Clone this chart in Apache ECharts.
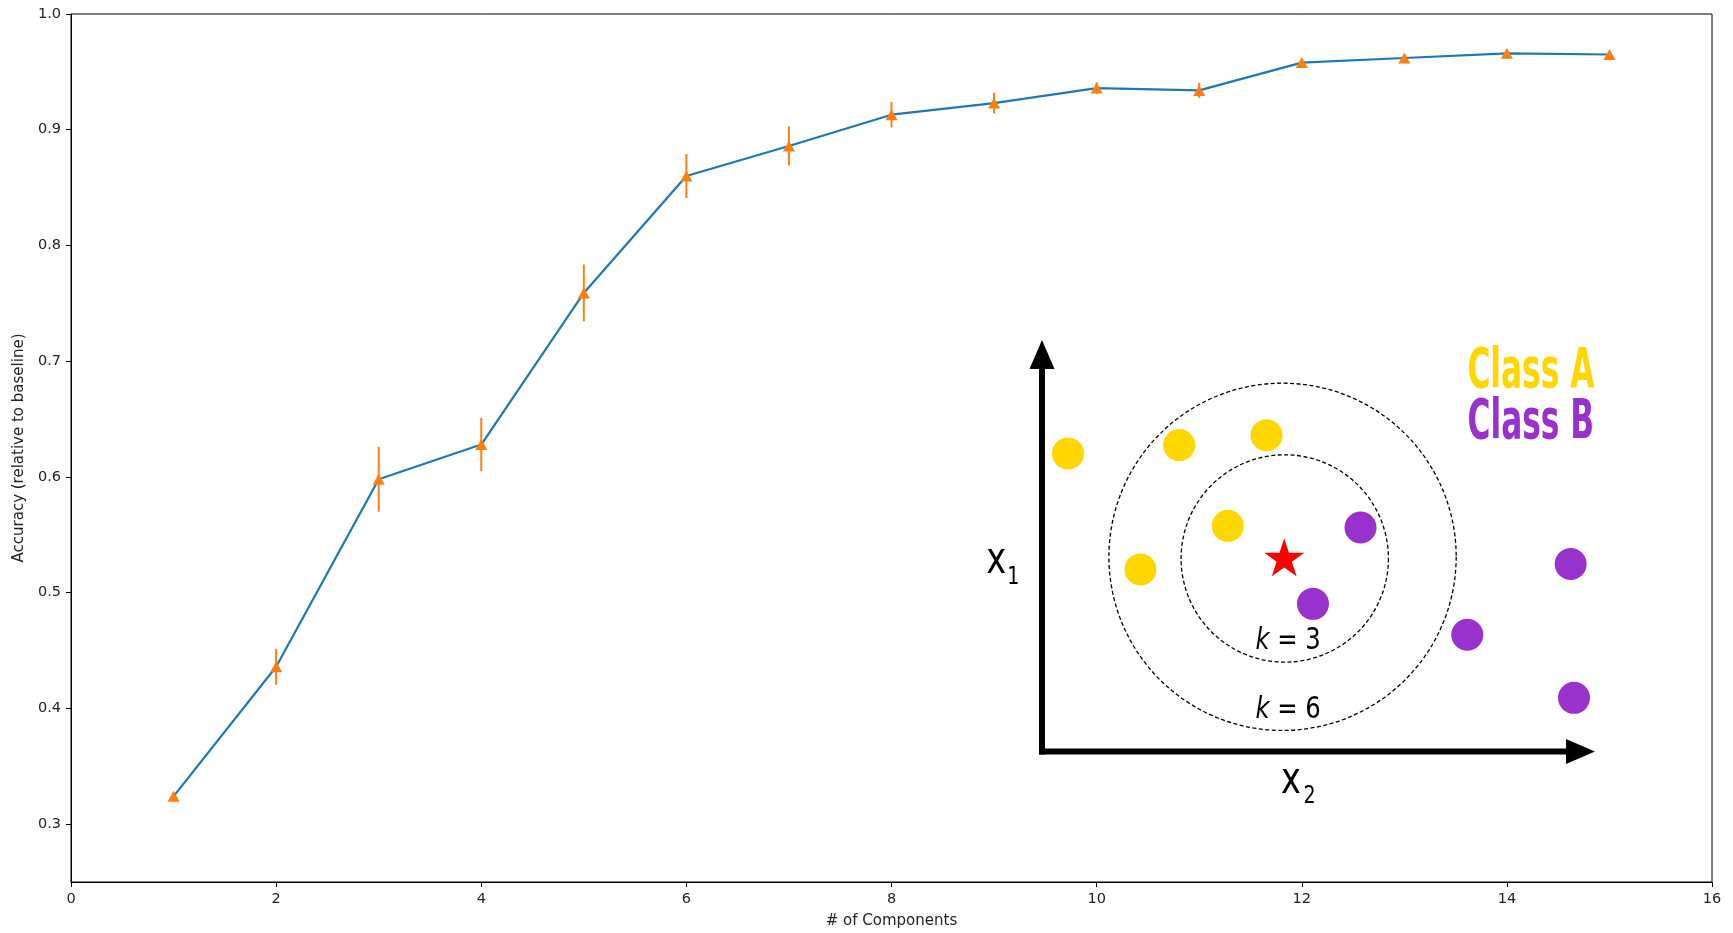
<!DOCTYPE html>
<html>
<head>
<meta charset="utf-8">
<script src="https://cdn.jsdelivr.net/npm/echarts@6.0.0/dist/echarts.min.js"></script>
<style>
  html, body { margin: 0; padding: 0; background: #fff; }
  #chart { width: 1733px; height: 933px; }
</style>
</head>
<body>
<div id="chart"></div>
<script>
// ---- main plot data ----
const components = [1, 2, 3, 4, 5, 6, 7, 8, 9, 10, 11, 12, 13, 14, 15];
const meanAccuracy = [0.324, 0.436, 0.598, 0.628, 0.759, 0.860, 0.886, 0.913, 0.923, 0.936, 0.934, 0.958, 0.962, 0.966, 0.965];
const errAccuracy = [0.003, 0.0155, 0.028, 0.023, 0.0245, 0.019, 0.017, 0.011, 0.009, 0.005, 0.0065, 0.003, 0.003, 0.003, 0.003];
const xTickValues = [0, 2, 4, 6, 8, 10, 12, 14, 16];
const yTickValues = [0.3, 0.4, 0.5, 0.6, 0.7, 0.8, 0.9, 1.0];
const xAxisTitle = '# of Components';
const yAxisTitle = 'Accuracy (relative to baseline)';

// ---- inset k-NN diagram data (diagram units) ----
const classAPoints = [[0.47, 5.39], [2.48, 5.54], [4.06, 5.72], [3.36, 4.08], [1.78, 3.29]];
const classBPoints = [[5.76, 4.05], [4.90, 2.67], [7.69, 2.11], [9.56, 3.39], [9.62, 0.97]];
const queryPoint = [[4.38, 3.51]];
const neighbourCircles = [[4.39, 3.49, 1.875], [4.35, 3.52, 3.14]]; // cx, cy, r
const arrowSegments = [[0, 0, 0, 7.44], [0, 0, 10, 0]];
const classNames = ['Class A', 'Class B'];
const classLabelPos = [[8.84, 6.86], [8.84, 5.94]];
const kValues = ['3', '6'];
const kLabelPos = [[4.45, 1.99], [4.45, 0.74]];
const axisLetters = ['x', 'x'];
const axisLetterPos = [[-0.83, 3.44], [4.50, -0.54]];
const axisSubscripts = ['1', '2'];
const axisSubscriptPos = [[-0.52, 3.15], [4.84, -0.81]];

const COLOR_A = '#FFD700';
const COLOR_B = '#9932CC';
const TXT = '#222';
const NARROW = '"Liberation Sans Narrow", "DejaVu Sans Condensed", sans-serif';

const chart = echarts.init(document.getElementById('chart'), null, { renderer: 'canvas' });

const lineData = components.map((x, i) => [x, meanAccuracy[i]]);
const errData = components.map((x, i) => [x, meanAccuracy[i] - errAccuracy[i], meanAccuracy[i] + errAccuracy[i]]);

const hiddenAxis = {
  show: false, axisLine: { show: false }, axisTick: { show: false },
  axisLabel: { show: false }, splitLine: { show: false }
};

const option = {
  backgroundColor: '#fff',
  animation: false,
  grid: [
    { left: 71, right: 21, top: 14, bottom: 51, show: true, borderColor: '#000', borderWidth: 1,
      backgroundColor: 'transparent', containLabel: false, outerBoundsMode: 'none' },
    { left: 1042, top: 340, width: 553, height: 411.5, show: false, containLabel: false, outerBoundsMode: 'none' }
  ],
  xAxis: [
    {
      type: 'value', gridIndex: 0, min: 0, max: 16, interval: 2,
      name: xAxisTitle, nameLocation: 'middle', nameGap: 32,
      nameTextStyle: { fontFamily: 'DejaVu Sans', fontSize: 15, color: TXT },
      axisLine: { show: true, onZero: false, lineStyle: { color: '#000', width: 1 } },
      axisTick: { show: true, inside: false, length: 5, lineStyle: { color: '#000' }, customValues: xTickValues },
      axisLabel: { fontFamily: 'DejaVu Sans', fontSize: 14.5, color: TXT, margin: 10, customValues: xTickValues },
      splitLine: { show: false }
    },
    Object.assign({ type: 'value', gridIndex: 1, min: 0, max: 10 }, hiddenAxis)
  ],
  yAxis: [
    {
      type: 'value', gridIndex: 0, min: 0.25, max: 1.0,
      name: yAxisTitle, nameLocation: 'middle', nameGap: 41, nameRotate: 90,
      nameTextStyle: { fontFamily: 'DejaVu Sans', fontSize: 15, color: TXT },
      axisLine: { show: true, onZero: false, lineStyle: { color: '#000', width: 1 } },
      axisTick: { show: true, inside: false, length: 5, lineStyle: { color: '#000' }, customValues: yTickValues },
      axisLabel: { fontFamily: 'DejaVu Sans', fontSize: 14.5, color: TXT, margin: 10, customValues: yTickValues,
                   formatter: v => v.toFixed(1) },
      splitLine: { show: false }
    },
    Object.assign({ type: 'value', gridIndex: 1, min: 0, max: 7.44 }, hiddenAxis)
  ],
  series: [
    {
      type: 'line', xAxisIndex: 0, yAxisIndex: 0, data: lineData,
      showSymbol: false, symbol: 'none', lineStyle: { color: '#1f77b4', width: 2.2 }, z: 2
    },
    {
      type: 'custom', xAxisIndex: 0, yAxisIndex: 0, data: errData, z: 3,
      renderItem: function (params, api) {
        const x = api.value(0);
        const p1 = api.coord([x, api.value(1)]);
        const p2 = api.coord([x, api.value(2)]);
        return { type: 'line', shape: { x1: p1[0], y1: p1[1], x2: p2[0], y2: p2[1] },
                 style: { stroke: '#ff7f0e', lineWidth: 2 } };
      }
    },
    {
      type: 'scatter', xAxisIndex: 0, yAxisIndex: 0, data: lineData, z: 4,
      symbol: 'triangle', symbolSize: [12, 11], itemStyle: { color: '#ff7f0e', opacity: 1 }
    },
    // ---- inset diagram ----
    {
      type: 'custom', xAxisIndex: 1, yAxisIndex: 1, data: arrowSegments, z: 5, clip: false,
      renderItem: function (params, api) {
        const p0 = api.coord([api.value(0), api.value(1)]);
        const p1 = api.coord([api.value(2), api.value(3)]);
        const dx = p1[0] - p0[0], dy = p1[1] - p0[1];
        const len = Math.sqrt(dx * dx + dy * dy);
        const ux = dx / len, uy = dy / len;
        const headLen = 29, headHalf = 12.5;
        const bx = p1[0] - ux * headLen, by = p1[1] - uy * headLen;
        const nx = -uy, ny = ux;
        return {
          type: 'group',
          children: [
            { type: 'line', shape: { x1: p0[0] - ux * 3, y1: p0[1] - uy * 3, x2: bx + ux * 2, y2: by + uy * 2 },
              style: { stroke: '#000', lineWidth: 6 } },
            { type: 'polygon', shape: { points: [[p1[0], p1[1]], [bx + nx * headHalf, by + ny * headHalf], [bx - nx * headHalf, by - ny * headHalf]] },
              style: { fill: '#000' } }
          ]
        };
      }
    },
    {
      type: 'custom', xAxisIndex: 1, yAxisIndex: 1, data: neighbourCircles, z: 5, clip: false,
      renderItem: function (params, api) {
        const c = api.coord([api.value(0), api.value(1)]);
        const r = api.size([api.value(2), 0])[0];
        return { type: 'circle', shape: { cx: c[0], cy: c[1], r: r },
                 style: { fill: null, stroke: '#000', lineWidth: 1.3, lineDash: [4, 2.5] } };
      }
    },
    {
      type: 'scatter', xAxisIndex: 1, yAxisIndex: 1, data: classAPoints, z: 6,
      symbol: 'circle', symbolSize: 32, itemStyle: { color: COLOR_A, opacity: 1 }
    },
    {
      type: 'scatter', xAxisIndex: 1, yAxisIndex: 1, data: classBPoints, z: 6,
      symbol: 'circle', symbolSize: 32, itemStyle: { color: COLOR_B, opacity: 1 }
    },
    {
      type: 'scatter', xAxisIndex: 1, yAxisIndex: 1, data: queryPoint, z: 7,
      symbol: 'path://M50,0 L61.2,34.5 L97.6,34.5 L68.2,55.9 L79.4,90.5 L50,69.1 L20.6,90.5 L31.8,55.9 L2.4,34.5 L38.8,34.5 Z',
      symbolSize: [40, 38], itemStyle: { color: '#FF0000', opacity: 1 }
    },
    {
      type: 'custom', xAxisIndex: 1, yAxisIndex: 1, z: 8, clip: false,
      data: classLabelPos.map((p, i) => [p[0], p[1], i]),
      renderItem: function (params, api) {
        const i = api.value(2);
        const p = api.coord([api.value(0), api.value(1)]);
        return { type: 'text', x: p[0], y: p[1], scaleX: 0.62,
                 style: { text: classNames[i], fill: i === 0 ? COLOR_A : COLOR_B,
                          fontFamily: NARROW, fontWeight: 'bold', fontSize: 56,
                          align: 'center', verticalAlign: 'middle' } };
      }
    },
    {
      type: 'custom', xAxisIndex: 1, yAxisIndex: 1, z: 8, clip: false,
      data: kLabelPos.map((p, i) => [p[0], p[1], i]),
      renderItem: function (params, api) {
        const i = api.value(2);
        const p = api.coord([api.value(0), api.value(1)]);
        return { type: 'text', x: p[0], y: p[1], scaleX: 0.9,
                 style: { text: '{i|k} = ' + kValues[i], fill: '#000',
                          fontFamily: NARROW, fontSize: 30, align: 'center', verticalAlign: 'middle',
                          rich: { i: { fontStyle: 'italic', fontSize: 30, fill: '#000', fontFamily: NARROW } } } };
      }
    },
    {
      type: 'custom', xAxisIndex: 1, yAxisIndex: 1, z: 8, clip: false,
      data: axisLetterPos.map((p, i) => [p[0], p[1], i]),
      renderItem: function (params, api) {
        const i = api.value(2);
        const p = api.coord([api.value(0), api.value(1)]);
        return { type: 'text', x: p[0], y: p[1], scaleX: 0.85,
                 style: { text: axisLetters[i], fill: '#000', fontFamily: NARROW,
                          fontSize: 44, align: 'center', verticalAlign: 'middle' } };
      }
    },
    {
      type: 'custom', xAxisIndex: 1, yAxisIndex: 1, z: 8, clip: false,
      data: axisSubscriptPos.map((p, i) => [p[0], p[1], i]),
      renderItem: function (params, api) {
        const i = api.value(2);
        const p = api.coord([api.value(0), api.value(1)]);
        return { type: 'text', x: p[0], y: p[1], scaleX: 0.85,
                 style: { text: axisSubscripts[i], fill: '#000', fontFamily: NARROW,
                          fontSize: 25, align: 'center', verticalAlign: 'middle' } };
      }
    }
  ]
};

chart.setOption(option);
</script>
</body>
</html>
